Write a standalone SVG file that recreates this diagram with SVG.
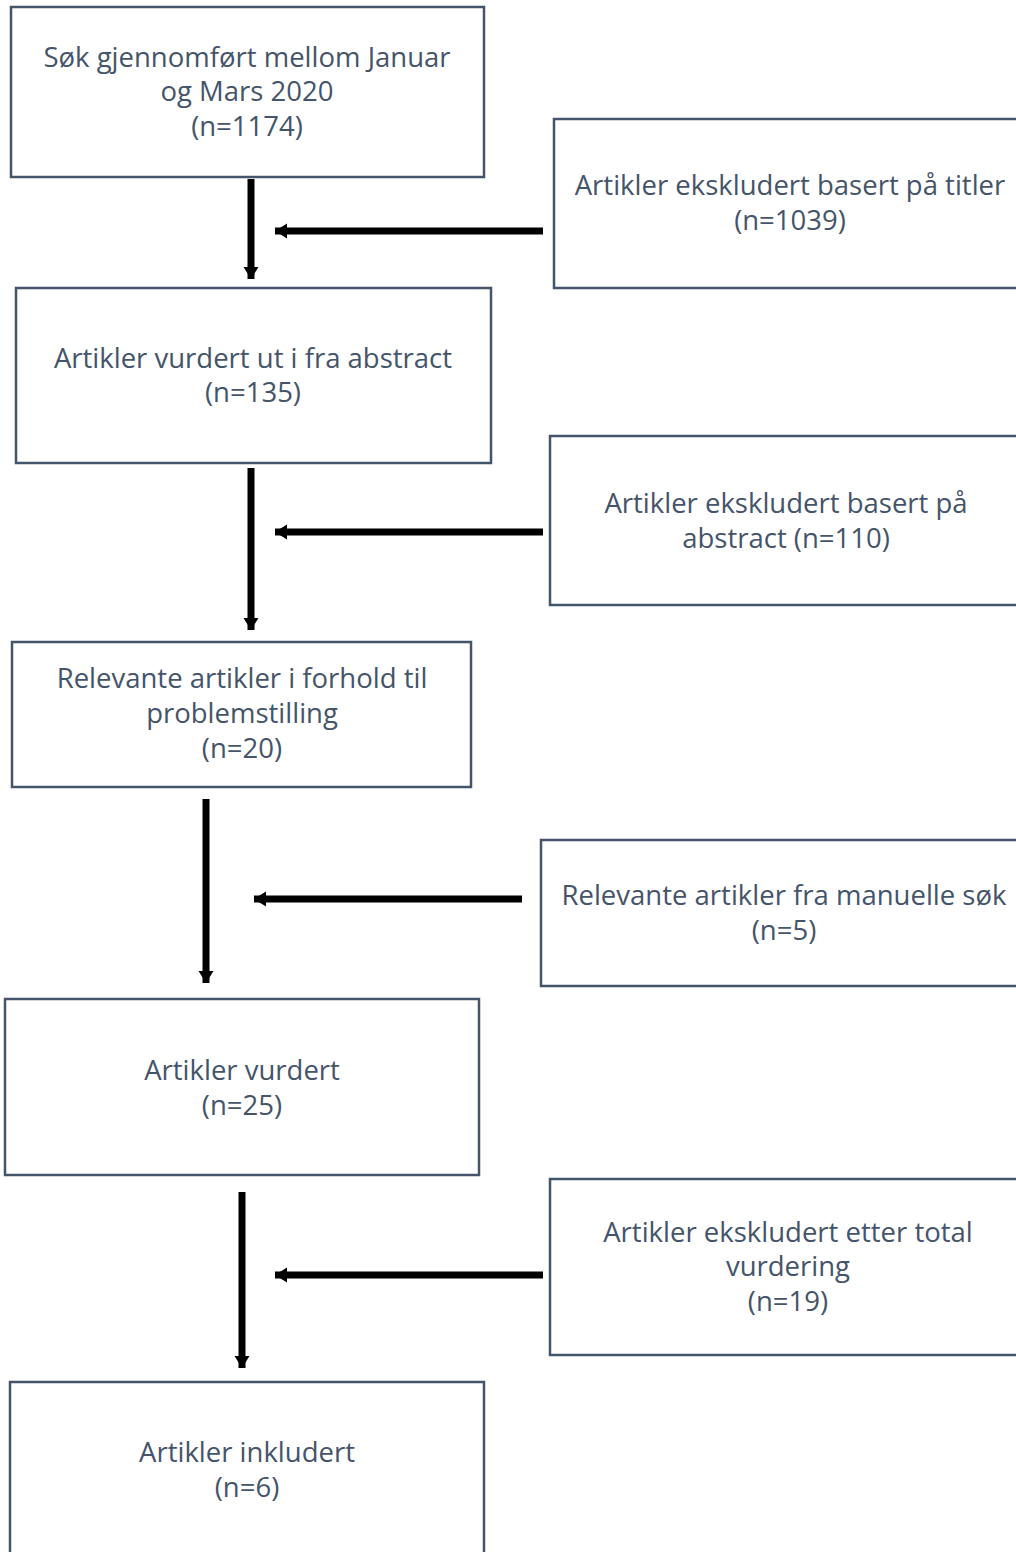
<svg xmlns="http://www.w3.org/2000/svg" width="1016" height="1552" viewBox="0 0 1016 1552">
<style>
.box{fill:#ffffff;stroke:#44546A;stroke-width:2.5}
.t{font-family:"Open Sans","Noto Sans",sans-serif;font-size:27.5px;fill:#44546A;text-anchor:middle}
.c{stroke:#000;stroke-width:7;fill:none}
</style>
<defs>
<marker id="ah" markerUnits="userSpaceOnUse" markerWidth="16" markerHeight="16" viewBox="0 0 16 16" refX="12" refY="8" orient="auto">
<path d="M0,0.5 L12,8 L0,15.5 Z" fill="#000"/>
</marker>
</defs>
<rect width="1016" height="1552" fill="#ffffff"/>
<g id="n1"><rect class="box" x="11" y="7" width="473" height="170"/>
<text class="t" x="247" y="67">Søk gjennomført mellom Januar</text>
<text class="t" x="247" y="101">og Mars 2020</text>
<text class="t" x="247" y="136">(n=1174)</text></g>
<g id="r1"><rect class="box" x="554" y="119" width="470" height="169"/>
<text class="t" x="790" y="195">Artikler ekskludert basert på titler</text>
<text class="t" x="790" y="230">(n=1039)</text></g>
<g id="n2"><rect class="box" x="16" y="288" width="475" height="175"/>
<text class="t" x="253" y="368">Artikler vurdert ut i fra abstract</text>
<text class="t" x="253" y="402">(n=135)</text></g>
<g id="r2"><rect class="box" x="550" y="436" width="474" height="169"/>
<text class="t" x="786" y="513">Artikler ekskludert basert på</text>
<text class="t" x="786" y="548">abstract (n=110)</text></g>
<g id="n3"><rect class="box" x="12" y="642" width="459" height="145"/>
<text class="t" x="242" y="688">Relevante artikler i forhold til</text>
<text class="t" x="242" y="723">problemstilling</text>
<text class="t" x="242" y="758">(n=20)</text></g>
<g id="r3"><rect class="box" x="541" y="840" width="483" height="146"/>
<text class="t" x="784" y="905">Relevante artikler fra manuelle søk</text>
<text class="t" x="784" y="940">(n=5)</text></g>
<g id="n4"><rect class="box" x="5" y="999" width="474" height="176"/>
<text class="t" x="242" y="1080">Artikler vurdert</text>
<text class="t" x="242" y="1115">(n=25)</text></g>
<g id="r4"><rect class="box" x="550" y="1179" width="474" height="176"/>
<text class="t" x="788" y="1242">Artikler ekskludert etter total</text>
<text class="t" x="788" y="1276">vurdering</text>
<text class="t" x="788" y="1311">(n=19)</text></g>
<g id="n5"><rect class="box" x="10" y="1382" width="474" height="180"/>
<text class="t" x="247" y="1462">Artikler inkludert</text>
<text class="t" x="247" y="1497">(n=6)</text></g>
<g id="connectors">
<line class="c" x1="251" y1="179" x2="251" y2="279" marker-end="url(#ah)"/>
<line class="c" x1="543" y1="231" x2="275" y2="231" marker-end="url(#ah)"/>
<line class="c" x1="251" y1="468" x2="251" y2="630" marker-end="url(#ah)"/>
<line class="c" x1="543" y1="532" x2="275" y2="532" marker-end="url(#ah)"/>
<line class="c" x1="206" y1="799" x2="206" y2="983" marker-end="url(#ah)"/>
<line class="c" x1="522" y1="899" x2="254" y2="899" marker-end="url(#ah)"/>
<line class="c" x1="242" y1="1192" x2="242" y2="1368" marker-end="url(#ah)"/>
<line class="c" x1="543" y1="1275" x2="275" y2="1275" marker-end="url(#ah)"/>
</g>
</svg>
